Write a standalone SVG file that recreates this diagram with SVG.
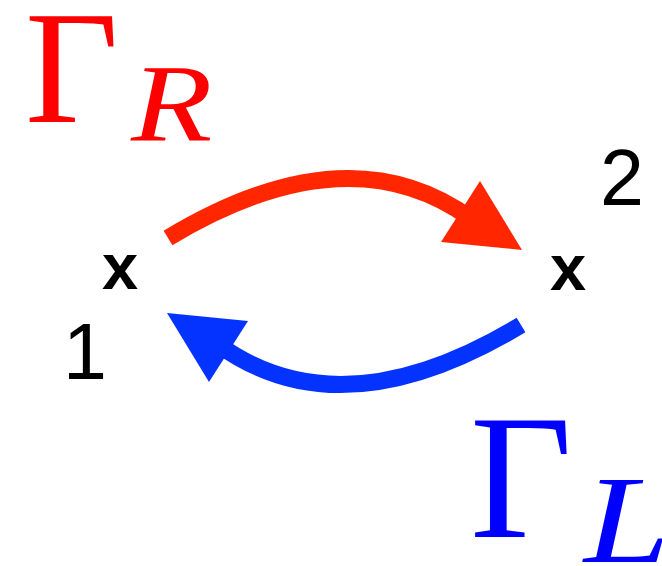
<svg xmlns="http://www.w3.org/2000/svg" width="662" height="566" viewBox="0 0 662 566">
<style>
.g{font-family:"Liberation Serif","Times New Roman",serif}
.gi{font-family:"Liberation Serif","Times New Roman",serif;font-style:italic}
.s{font-family:"Liberation Sans",Arial,sans-serif}
.b{font-weight:bold}
.arc{fill:none;stroke-width:17;stroke-linecap:butt}
</style>
<rect width="662" height="566" fill="#fff"/>
<g id="label-gamma-r" fill="#ff0000">
<text class="g" x="25" y="122" font-size="162">Γ</text>
<text class="gi" transform="translate(131,141) scale(1.2,1)" x="0" y="0" font-size="111">R</text>
</g>
<g id="label-gamma-l" fill="#0000ff">
<text class="g" x="470" y="537" font-size="177">Γ</text>
<text class="gi" transform="translate(584,562) scale(1.25,1)" x="0" y="0" font-size="124">L</text>
</g>
<g id="node1">
<text class="s b" x="102" y="289" font-size="65">x</text>
<text class="s" x="63" y="379" font-size="79">1</text>
</g>
<g id="node2">
<text class="s b" x="550" y="290" font-size="65">x</text>
<text class="s" x="600" y="205" font-size="79">2</text>
</g>
<g id="connectors">
<path class="arc" stroke="#ff2600" d="M168,238 Q347,130 470,218"/>
<polygon fill="#ff2600" points="522,250 480,181 441,242"/>
<path class="arc" stroke="#0433ff" d="M521,325 Q342,433 219,345"/>
<polygon fill="#0433ff" points="167,313 209,382 248,321"/>
</g>
</svg>
